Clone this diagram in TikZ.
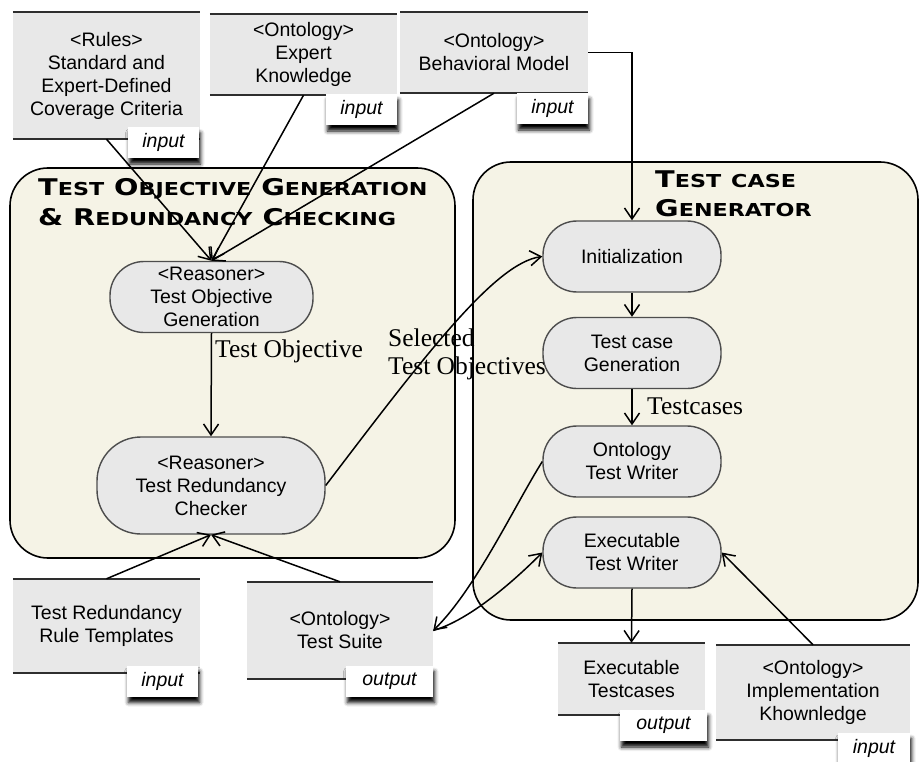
\documentclass[tikz,border=0pt]{standalone}
\usepackage{fontspec}
\setmainfont{Liberation Sans}
\newfontfamily\labelfont{Liberation Serif}
\newfontfamily\titlefont[FakeStretch=1.25]{DejaVu Sans}
\usetikzlibrary{arrows.meta,shadows.blur}

\definecolor{cream}{HTML}{F5F3E6}
\definecolor{pillgray}{HTML}{E8E8E8}
\definecolor{pillline}{HTML}{4D4D4D}
\definecolor{docgray}{HTML}{E8E8E8}
\definecolor{doclinec}{HTML}{2E2E2E}

% small-caps look for the group titles: big initial, smaller rest
\newcommand\bigsc[2]{{\fontsize{23}{23}\selectfont #1}{\fontsize{17.8}{17.8}\selectfont #2}}
\newcommand\smallsc[1]{{\fontsize{17.8}{17.8}\selectfont #1}}
\newcommand\wsp{\hspace{10pt}}

\begin{document}
\begin{tikzpicture}[x=1pt,y=-1pt,
  font=\fontsize{19.5}{23}\selectfont,
  container/.style={draw=black, line width=1.6pt, fill=cream, rounded corners=38pt, inner sep=0pt},
  pill/.style={draw=pillline, line width=1.4pt, fill=pillgray, rounded corners=34pt, align=center, inner sep=0pt},
  docbox/.style={fill=docgray, inner sep=0pt, align=center},
  docline/.style={line width=1.9pt, draw=doclinec},
  tag/.style={fill=white, inner sep=0pt, minimum height=31pt,
    font=\fontsize{19.5}{23}\selectfont\itshape,
    blur shadow={shadow xshift=1.5pt, shadow yshift=-6pt, shadow blur radius=4pt, shadow opacity=100}},
  flow/.style={line width=1.5pt, -{Straight Barb[length=11pt,width=15pt,line width=1.5pt]}},
  lbl/.style={font=\labelfont\fontsize{25.5}{29}\selectfont, inner sep=0pt, anchor=base west},
  ttl/.style={font=\titlefont\bfseries, inner sep=0pt, anchor=base west},
]
\useasboundingbox (0,0) rectangle (920,762);

% group frames
\node[container, minimum width=445pt, minimum height=390pt] (leftgrp) at (232.5,363) {};
\node[container, minimum width=445pt, minimum height=458pt] (rightgrp) at (695.5,391) {};

% group titles
\node[ttl] (ltA) at (38,196) {\bigsc{T}{EST}\wsp\bigsc{O}{BJECTIVE}\wsp\bigsc{G}{ENERATION}};
\node[ttl] (ltB) at (38,225) {{\fontsize{23}{23}\selectfont\&}\wsp\bigsc{R}{EDUNDANCY}\wsp\bigsc{C}{HECKING}};
\node[ttl] (rtA) at (655,187) {\bigsc{T}{EST}\wsp\smallsc{CASE}};
\node[ttl] (rtB) at (655,216) {\bigsc{G}{ENERATOR}};

% process steps
\node[pill, minimum width=203pt, minimum height=71pt] (tog) at (211.5,297) {<Reasoner>\\Test Objective\\Generation};
\node[pill, rounded corners=44pt, minimum width=228pt, minimum height=97pt] (trc) at (211,485.5) {<Reasoner>\\Test Redundancy\\Checker};
\node[pill, minimum width=178pt, minimum height=71pt] (init) at (632,256.5) {Initialization};
\node[pill, minimum width=178pt, minimum height=71pt] (tcg) at (632,353) {Test case\\Generation};
\node[pill, minimum width=178pt, minimum height=71pt] (otw) at (632,461.5) {Ontology\\Test Writer};
\node[pill, minimum width=178pt, minimum height=71pt] (etw) at (632,552.5) {Executable\\Test Writer};

% artefacts
\node[docbox, minimum width=187pt, minimum height=127pt] (rules) at (106.5,75.5) {<Rules>\\Standard and\\Expert-Defined\\Coverage Criteria};
\node[docbox, minimum width=187pt, minimum height=81pt] (expert) at (303.5,54.5) {<Ontology>\\Expert\\Knowledge};
\node[docbox, minimum width=188pt, minimum height=81pt] (behav) at (494,52.5) {<Ontology>\\Behavioral Model};
\node[docbox, minimum width=187pt, minimum height=94pt] (rtpl) at (106.5,626) {Test Redundancy\\Rule Templates};
\node[docbox, minimum width=186pt, minimum height=97pt] (suite) at (340,630.5) {<Ontology>\\Test Suite};
\node[docbox, minimum width=147pt, minimum height=72pt] (exec) at (631.5,679) {Executable\\Testcases};
\node[docbox, minimum width=194pt, minimum height=95pt] (impl) at (813,692.5) {<Ontology>\\Implementation\\Khownledge};
\foreach \n in {rules,expert,behav,rtpl,suite,exec,impl}{
  \draw[docline] (\n.north west) -- (\n.north east);
  \draw[docline] (\n.south west) -- (\n.south east);
}

% connectors
\draw[flow] (rules.south) -- (tog.north);
\draw[flow] (expert.south) -- (tog.north);
\draw[flow] (behav.south) -- (tog.north);
\draw[flow] (behav.east) -| (init.north);
\draw[flow] (tog.south) -- (trc.north);
\draw[flow] (trc.east) .. controls (425,355) and (495,263) .. (init.west);
\draw[flow] (init.south) -- (tcg.north);
\draw[flow] (tcg.south) -- (otw.north);
\draw[flow] (otw.west) .. controls (515,505) and (475,590) .. (suite.east);
\draw[flow] (suite.east) .. controls (470,620) and (515,580) .. (etw.west);
\draw[flow] (etw.south) -- (exec.north);
\draw[flow] (impl.north) -- (etw.east);
\draw[flow] (rtpl.north) -- (trc.south);
\draw[flow] (suite.north) -- (trc.south);

% connector labels
\node[lbl] (tolbl) at (215,357) {Test Objective};
\node[lbl] (selA) at (388,346) {Selected};
\node[lbl] (selB) at (388,374) {Test Objectives};
\node[lbl] (tclbl) at (647,414) {Testcases};

% role tags
\node[tag, minimum width=71pt] (rulesin) at (163.5,142.5) {input};
\node[tag, minimum width=71pt] (expertin) at (361.5,109.5) {input};
\node[tag, minimum width=71pt] (behavin) at (552.5,108.5) {input};
\node[tag, minimum width=71pt] (rtplin) at (162.5,681) {input};
\node[tag, minimum width=87pt] (suiteout) at (389.5,681) {output};
\node[tag, minimum width=87pt] (execout) at (663.5,725.5) {output};
\node[tag, minimum width=72pt] (implin) at (874,748) {input};
\end{tikzpicture}
\end{document}
